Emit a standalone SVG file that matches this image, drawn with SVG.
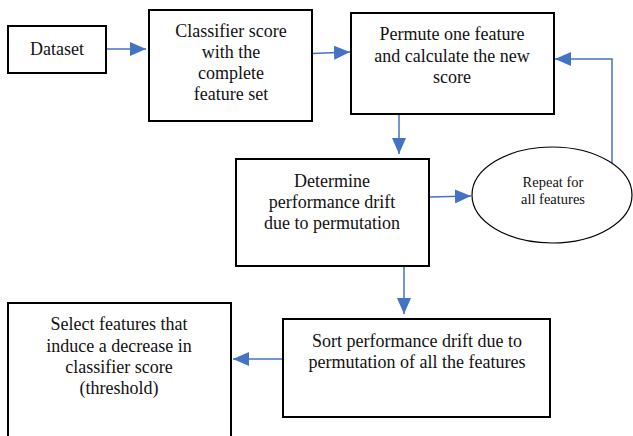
<svg xmlns="http://www.w3.org/2000/svg" width="633" height="436" viewBox="0 0 633 436">
  <style>
    .box { fill: #ffffff; stroke: #000000; stroke-width: 2; }
    .oval { fill: #ffffff; stroke: #000000; stroke-width: 1.2; }
    .lbl { font-family: "Liberation Serif", "DejaVu Serif", serif; font-size: 18px; fill: #111111; text-anchor: middle; }
    .small { font-size: 14.5px; }
    .link { fill: none; stroke: #4472C4; stroke-width: 1.5; }
  </style>
  <defs>
    <marker id="head" viewBox="0 0 16 14" refX="16" refY="7" markerWidth="16" markerHeight="14" markerUnits="userSpaceOnUse" orient="auto">
      <path d="M0,0 L16,7 L0,14 Z" fill="#4472C4"/>
    </marker>
  </defs>
  <rect width="633" height="436" fill="#ffffff"/>

  <g id="connectors">
    <line class="link" x1="106" y1="49" x2="146" y2="49" marker-end="url(#head)"/>
    <line class="link" x1="312" y1="53.5" x2="350" y2="52" marker-end="url(#head)"/>
    <polyline class="link" points="612,163 612,59 555,59" marker-end="url(#head)"/>
    <line class="link" x1="399" y1="114" x2="399" y2="154" marker-end="url(#head)"/>
    <line class="link" x1="429" y1="197" x2="471" y2="196" marker-end="url(#head)"/>
    <line class="link" x1="404" y1="266" x2="404" y2="314" marker-end="url(#head)"/>
    <line class="link" x1="283" y1="359" x2="233" y2="359" marker-end="url(#head)"/>
  </g>

  <g id="dataset">
    <rect class="box" x="8" y="26" width="98" height="47"/>
    <text class="lbl" x="57" y="55">Dataset</text>
  </g>

  <g id="classifier-score">
    <rect class="box" x="149" y="10" width="163" height="111"/>
    <text class="lbl" x="231" y="37">Classifier score</text>
    <text class="lbl" x="231" y="58">with the</text>
    <text class="lbl" x="231" y="79">complete</text>
    <text class="lbl" x="231" y="100">feature set</text>
  </g>

  <g id="permute">
    <rect class="box" x="351" y="13" width="203" height="101"/>
    <text class="lbl" x="452" y="40">Permute one feature</text>
    <text class="lbl" x="452" y="62">and calculate the new</text>
    <text class="lbl" x="452" y="83">score</text>
  </g>

  <g id="determine-drift">
    <rect class="box" x="236" y="159" width="193" height="107"/>
    <text class="lbl" x="332" y="187">Determine</text>
    <text class="lbl" x="332" y="208">performance drift</text>
    <text class="lbl" x="332" y="229">due to permutation</text>
  </g>

  <g id="repeat">
    <ellipse class="oval" cx="552" cy="195" rx="80" ry="48"/>
    <text class="lbl small" x="553" y="187">Repeat for</text>
    <text class="lbl small" x="553" y="204">all features</text>
  </g>

  <g id="sort-drift">
    <rect class="box" x="283" y="319" width="267" height="98"/>
    <text class="lbl" x="417" y="347">Sort performance drift due to</text>
    <text class="lbl" x="417" y="368">permutation of all the features</text>
  </g>

  <g id="select-features">
    <rect class="box" x="8" y="303" width="223" height="140"/>
    <text class="lbl" x="119" y="330">Select features that</text>
    <text class="lbl" x="119" y="352">induce a decrease in</text>
    <text class="lbl" x="119" y="373">classifier score</text>
    <text class="lbl" x="119" y="394">(threshold)</text>
  </g>
</svg>
